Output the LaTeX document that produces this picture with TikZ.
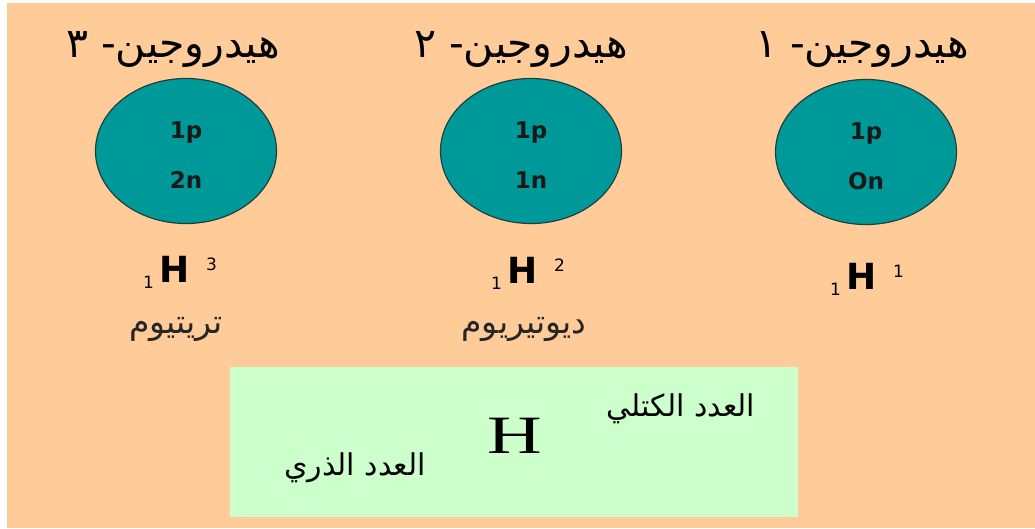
\documentclass[tikz,border=0pt]{standalone}
\usepackage{fontspec}
\usetikzlibrary{shapes.geometric}
\setmainfont{DejaVu Sans}
\newfontfamily\arabicfont[Script=Arabic]{DejaVu Sans}
\newfontfamily\serifH{Liberation Serif}
\TeXXeTstate=1
\definecolor{peach}{HTML}{FFCC99}
\definecolor{mint}{HTML}{CCFFCC}
\definecolor{nuc}{HTML}{009999}
\definecolor{nucedge}{HTML}{1F3F3F}
\begin{document}
\begin{tikzpicture}[x=1pt,y=-1pt,
  nucleus/.style={ellipse, draw=nucedge, line width=1.2pt, fill=nuc,
    minimum width=181pt, minimum height=145pt, inner sep=0pt},
  nuctext/.style={font=\fontsize{23}{23}\selectfont\bfseries, text=black!90, anchor=base, inner sep=0pt},
  isotitle/.style={font=\arabicfont\fontsize{41}{41}\selectfont, anchor=base, inner sep=0pt},
  isoname/.style={font=\arabicfont\fontsize{33}{33}\selectfont, anchor=base, inner sep=0pt, text=black!85},
  symb/.style={anchor=base, inner sep=0pt},
  boxtext/.style={font=\arabicfont\fontsize{30}{30}\selectfont, anchor=base, inner sep=0pt}
]
\useasboundingbox (0,0) rectangle (1035,528);
\fill[white] (0,0) rectangle (1035,528);
\fill[peach] (7,3) rectangle (1035,528);

% nuclei
\node[nucleus] (c3) at (186,151) {};
\node[nucleus] (c2) at (531,151) {};
\node[nucleus] (c1) at (866,152) {};

\node[nuctext] (p3) at (186,138) {1p};
\node[nuctext] (n3) at (186,188) {2n};
\node[nuctext] (p2) at (531,138) {1p};
\node[nuctext] (n2) at (531,188) {1n};
\node[nuctext] (p1) at (866,139) {1p};
\node[nuctext] (n1) at (866,189) {On};

% titles
\node[isotitle] (t3) at (173,57) {\beginR هيدروجين- ٣\endR};
\node[isotitle] (t2) at (521,57) {\beginR هيدروجين- ٢\endR};
\node[isotitle] (t1) at (862,57) {\beginR هيدروجين- ١\endR};

% symbols
\newcommand{\isosym}[1]{{\fontsize{17}{17}\selectfont\raisebox{-6pt}{1}}\hspace{6pt}{\fontsize{36}{36}\selectfont\bfseries H}\hspace{16pt}{\fontsize{17}{17}\selectfont\raisebox{12pt}{#1}}}
\node[symb] (h3) at (180,282) {\isosym{3}};
\node[symb] (h2) at (528,283) {\isosym{2}};
\node[symb] (h1) at (867,289) {\isosym{1}};

% names
\node[isoname] (nm3) at (176,333) {\beginR تريتيوم\endR};
\node[isoname] (nm2) at (524,333) {\beginR ديوتيريوم\endR};

% legend box
\node[fill=mint, minimum width=568pt, minimum height=150pt, inner sep=0pt] (box) at (514,442) {};
\node[anchor=base, inner sep=0pt, font=\serifH\fontsize{54}{54}\selectfont] (hbig) at (515,453) {\scalebox{1.4}[1]{H}};
\node[boxtext] (mass) at (681,416) {\beginR العدد الكتلي\endR};
\node[boxtext] (atomic) at (355,475) {\beginR العدد الذري\endR};
\end{tikzpicture}
\end{document}
